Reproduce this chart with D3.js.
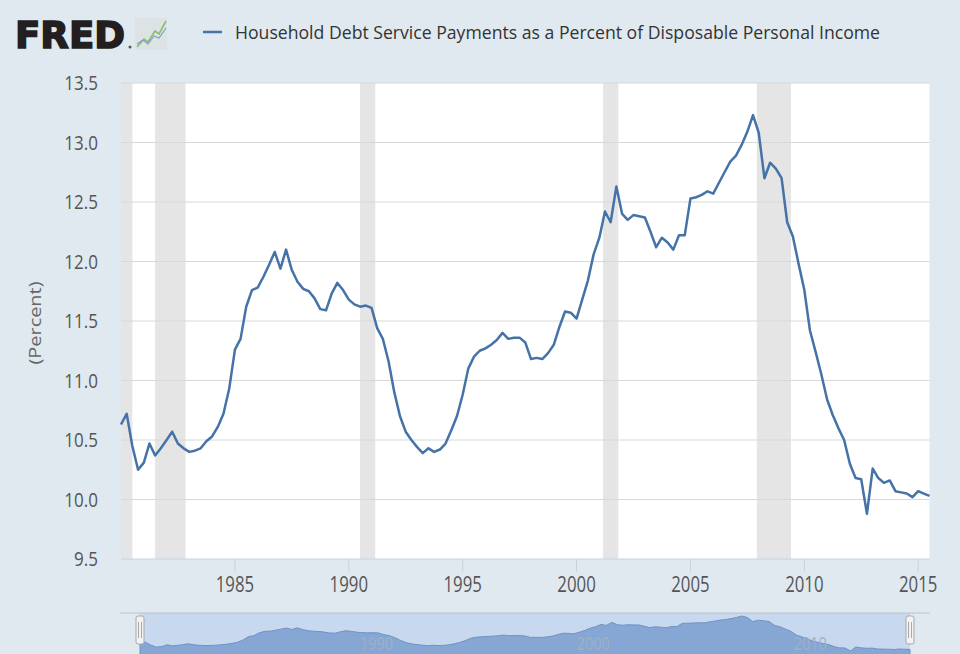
<!DOCTYPE html>
<html>
<head>
<meta charset="utf-8">
<script src="https://cdn.jsdelivr.net/npm/d3@7"></script>
<style>
  body { margin: 0; background: #e1e9f0; }
  svg { display: block; font-family: "Open Sans", sans-serif; }
</style>
</head>
<body>
<svg id="chart" width="960" height="654"></svg>
<script>
const seriesName = 'Household Debt Service Payments as a Percent of Disposable Personal Income';
const startYear = 1980; // first quarter of the series, quarterly from here on

// quarterly values, 1980 Q1 .. 2015 Q3
const values = [
  10.63, 10.72, 10.45, 10.25,  10.31, 10.47, 10.37, 10.43,  10.50, 10.57, 10.47, 10.43,
  10.40, 10.41, 10.43, 10.49,  10.53, 10.61, 10.72, 10.93,  11.26, 11.35, 11.62, 11.76,
  11.78, 11.87, 11.97, 12.08,  11.94, 12.10, 11.93, 11.83,  11.77, 11.75, 11.69, 11.60,
  11.59, 11.73, 11.82, 11.76,  11.68, 11.64, 11.62, 11.63,  11.61, 11.44, 11.35, 11.16,
  10.90, 10.70, 10.57, 10.50,  10.44, 10.39, 10.43, 10.40,  10.42, 10.47, 10.58, 10.70,
  10.88, 11.10, 11.20, 11.25,  11.27, 11.30, 11.34, 11.40,  11.35, 11.36, 11.36, 11.32,
  11.18, 11.19, 11.18, 11.23,  11.30, 11.45, 11.58, 11.57,  11.52, 11.68, 11.84, 12.06,
  12.20, 12.42, 12.33, 12.63,  12.40, 12.35, 12.39, 12.38,  12.37, 12.25, 12.12, 12.20,
  12.16, 12.10, 12.22, 12.22,  12.53, 12.54, 12.56, 12.59,  12.57, 12.66, 12.75, 12.84,
  12.89, 12.98, 13.09, 13.23,  13.08, 12.70, 12.83, 12.78,  12.70, 12.33, 12.21, 11.98,
  11.76, 11.42, 11.24, 11.05,  10.84, 10.71, 10.60, 10.50,  10.30, 10.18, 10.17,  9.88,
  10.26, 10.18, 10.14, 10.16,  10.07, 10.06, 10.05, 10.02,  10.07, 10.05, 10.03
];

const recessions = [
  ['1980-01-01', '1980-07-01'],
  ['1981-07-01', '1982-11-01'],
  ['1990-07-01', '1991-03-01'],
  ['2001-03-01', '2001-11-01'],
  ['2007-12-01', '2009-06-01']
];

const yTicks = [9.5, 10.0, 10.5, 11.0, 11.5, 12.0, 12.5, 13.0, 13.5];
const xTickYears = [1985, 1990, 1995, 2000, 2005, 2010, 2015];
const navTickYears = [1990, 2000, 2010];

const data = values.map((v, i) => ({
  date: new Date(startYear + Math.floor(i / 4), (i % 4) * 3, 1),
  value: v
}));

const svg = d3.select('#chart');
const parse = d3.timeParse('%Y-%m-%d');

const domain = [new Date(1980, 0, 1), new Date(2015, 6, 1)];
const x = d3.scaleTime().domain(domain).range([121, 929.5]);
const y = d3.scaleLinear().domain([9.5, 13.5]).range([559, 83]);

// squeeze text horizontally, the reference type is narrow
function squeeze(sel, k) {
  sel.each(function () {
    const w = this.getComputedTextLength();
    d3.select(this).attr('textLength', w * k).attr('lengthAdjust', 'spacingAndGlyphs');
  });
}

// ---- header: logo + legend
const logo = svg.append('g');
logo.append('text')
  .attr('x', 15).attr('y', 48)
  .attr('font-family', '"DejaVu Sans", sans-serif')
  .attr('font-weight', 'bold')
  .attr('font-size', 37)
  .attr('fill', '#231f20')
  .attr('stroke', '#231f20')
  .attr('stroke-width', 1.6)
  .attr('textLength', 110)
  .attr('lengthAdjust', 'spacingAndGlyphs')
  .text('FRED');
logo.append('circle').attr('cx', 130).attr('cy', 47).attr('r', 1.5).attr('fill', '#555');
logo.append('rect')
  .attr('x', 135).attr('y', 18).attr('width', 32).attr('height', 32)
  .attr('fill', '#dde3e5');
logo.append('path')
  .attr('d', 'M137,47 L144,39 L148,42 L155,31 L159,34 L166,21')
  .attr('fill', 'none').attr('stroke', '#8cbf6a').attr('stroke-width', 1.6);
logo.append('path')
  .attr('d', 'M137,44 L143,40 L148,44 L154,36 L159,38 L166,28')
  .attr('fill', 'none').attr('stroke', '#7e9fc6').attr('stroke-width', 1.2);

svg.append('line')
  .attr('x1', 203).attr('x2', 222).attr('y1', 32).attr('y2', 32)
  .attr('stroke', '#4572a7').attr('stroke-width', 2.5);
svg.append('text')
  .attr('x', 235).attr('y', 39)
  .attr('font-size', 18.5)
  .attr('fill', '#333')
  .attr('textLength', 645)
  .attr('lengthAdjust', 'spacingAndGlyphs')
  .text(seriesName);

// ---- plot area
svg.append('rect')
  .attr('x', x.range()[0]).attr('y', y(13.5))
  .attr('width', x.range()[1] - x.range()[0])
  .attr('height', y(9.5) - y(13.5))
  .attr('fill', '#fff');

svg.append('g').selectAll('rect')
  .data(recessions)
  .join('rect')
  .attr('x', d => x(parse(d[0])))
  .attr('width', d => x(parse(d[1])) - x(parse(d[0])))
  .attr('y', y(13.5))
  .attr('height', y(9.5) - y(13.5))
  .attr('fill', '#e5e5e5');

svg.append('g').selectAll('line')
  .data(yTicks.slice(1))
  .join('line')
  .attr('x1', x.range()[0]).attr('x2', x.range()[1])
  .attr('y1', d => y(d)).attr('y2', d => y(d))
  .attr('stroke', '#d8d8d8').attr('stroke-width', 1);

// x axis line + ticks
svg.append('line')
  .attr('x1', x.range()[0]).attr('x2', x.range()[1])
  .attr('y1', y(9.5)).attr('y2', y(9.5))
  .attr('stroke', '#c6d2e0');

const xTicks = svg.append('g');
xTicks.selectAll('line')
  .data(xTickYears)
  .join('line')
  .attr('x1', d => x(new Date(d, 0, 1))).attr('x2', d => x(new Date(d, 0, 1)))
  .attr('y1', y(9.5)).attr('y2', y(9.5) + 13)
  .attr('stroke', '#c6d2e0');
xTicks.selectAll('text')
  .data(xTickYears)
  .join('text')
  .attr('x', d => x(new Date(d, 0, 1)))
  .attr('y', 592)
  .attr('text-anchor', 'middle')
  .attr('font-size', 21)
  .attr('fill', '#555')
  .text(d => d)
  .call(squeeze, 0.8);

svg.append('g').selectAll('text')
  .data(yTicks)
  .join('text')
  .attr('x', 98)
  .attr('y', d => y(d) + 7)
  .attr('text-anchor', 'end')
  .attr('font-size', 20)
  .attr('fill', '#555')
  .text(d => d.toFixed(1))
  .call(squeeze, 0.85);

svg.append('text')
  .attr('transform', 'translate(41,323) rotate(-90)')
  .attr('text-anchor', 'middle')
  .attr('font-size', 17)
  .attr('fill', '#666')
  .attr('textLength', 83)
  .attr('lengthAdjust', 'spacingAndGlyphs')
  .text('(Percent)');

// series line
const line = d3.line().x(d => x(d.date)).y(d => y(d.value));
svg.append('path')
  .datum(data)
  .attr('d', line)
  .attr('fill', 'none')
  .attr('stroke', '#4572a7')
  .attr('stroke-width', 2.5)
  .attr('stroke-linejoin', 'round');

// ---- navigator
const xn = d3.scaleTime().domain(domain).range([140, 910]);
const yn = d3.scaleLinear().domain(d3.extent(values)).range([651, 616]);

svg.append('rect')
  .attr('x', xn.range()[0]).attr('y', 613)
  .attr('width', xn.range()[1] - xn.range()[0]).attr('height', 45)
  .attr('fill', '#c8d9ef');

const area = d3.area().x(d => xn(d.date)).y0(660).y1(d => yn(d.value));
svg.append('path')
  .datum(data)
  .attr('d', area)
  .attr('fill', '#86a6d3')
  .attr('stroke', '#6f93c6')
  .attr('stroke-width', 1);

svg.append('g').selectAll('text')
  .data(navTickYears)
  .join('text')
  .attr('x', d => xn(new Date(d, 0, 1)) + 3)
  .attr('y', 650)
  .attr('font-size', 18)
  .attr('fill', '#9fb1c6')
  .text(d => d)
  .call(squeeze, 0.8);

svg.append('line')
  .attr('x1', 120).attr('x2', 930)
  .attr('y1', 613).attr('y2', 613)
  .attr('stroke', '#b9c2cc');

const handles = svg.append('g').selectAll('g')
  .data(xn.range())
  .join('g')
  .attr('transform', d => `translate(${d},0)`);
handles.append('rect')
  .attr('x', -4).attr('y', 616).attr('width', 8).attr('height', 28).attr('rx', 2)
  .attr('fill', '#f2f2f2').attr('stroke', '#a9a9a9');
handles.selectAll('line')
  .data([-1.5, 1.5])
  .join('line')
  .attr('x1', d => d).attr('x2', d => d)
  .attr('y1', 622).attr('y2', 638)
  .attr('stroke', '#a9a9a9');
</script>
</body>
</html>
